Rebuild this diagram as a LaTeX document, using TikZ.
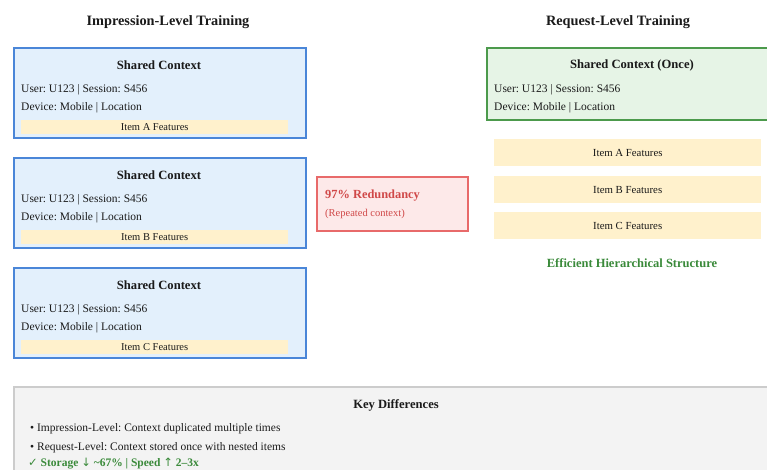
\documentclass[tikz,border=0pt]{standalone}
\usepackage{fontspec}
\setmainfont{Liberation Serif}
\newfontfamily\symfont{DejaVu Sans}
\frenchspacing
\definecolor{ctxblue}{HTML}{4A86D8}
\definecolor{ctxbluefill}{HTML}{E3F0FC}
\definecolor{ctxgreen}{HTML}{4C9A4C}
\definecolor{ctxgreenfill}{HTML}{E6F4E6}
\definecolor{itemfill}{HTML}{FFF1CC}
\definecolor{redline}{HTML}{E86A6A}
\definecolor{redfill}{HTML}{FDE9E9}
\definecolor{redtext}{HTML}{D04848}
\definecolor{goodgreen}{HTML}{3A8A3A}
\definecolor{panelfill}{HTML}{F3F3F3}
\definecolor{panelline}{HTML}{CCCCCC}
\definecolor{ink}{HTML}{1A1A1A}
\tikzset{
  fs/.style={font=\fontsize{#1}{#1}\selectfont},
  fsb/.style={font=\fontsize{#1}{#1}\selectfont\bfseries},
  heading/.style={fsb=14.3, text=ink, inner sep=0},
  boxtitle/.style={fsb=12.6, text=ink, inner sep=0},
  body/.style={fs=11.5, text=ink, inner sep=0, anchor=base west},
  ctxbox/.style={draw=ctxblue, fill=ctxbluefill, line width=2pt, anchor=north west, inner sep=0,
    minimum width=292pt, minimum height=90pt},
  oncebox/.style={draw=ctxgreen, fill=ctxgreenfill, line width=2pt, anchor=north west, inner sep=0,
    minimum width=290pt, minimum height=72pt},
  smallitem/.style={fill=itemfill, anchor=north west, inner sep=0, minimum width=267pt, minimum height=14pt,
    fs=10.5, text=ink},
  bigitem/.style={fill=itemfill, anchor=north west, inner sep=0, minimum width=267pt, minimum height=27pt,
    fs=10.8, text=ink},
  redbox/.style={draw=redline, fill=redfill, line width=1.6pt, anchor=north west, inner sep=0,
    minimum width=151pt, minimum height=54pt},
  panel/.style={draw=panelline, fill=panelfill, line width=1.6pt, anchor=north west, inner sep=0,
    minimum width=780pt, minimum height=110pt},
}
\begin{document}
\begin{tikzpicture}[x=1pt,y=-1pt]
\clip (0,0) rectangle (767,469);
\fill[white] (0,0) rectangle (767,469);

% column headings
\node[heading] (hleft) at (168,22) {Impression-Level Training};
\node[heading] (hright) at (618,22) {Request-Level Training};

% impression-level: one full context copy per item
\foreach \id/\y/\item in {a/0/A, b/110/B, c/220/C}{
  \node[ctxbox] (ctx\id) at (13,47+\y) {};
  \node[boxtitle] (ctx\id title) at (159,65+\y) {Shared Context};
  \node[body] (ctx\id user) at (21,92+\y) {User: U123 | Session: S456};
  \node[body] (ctx\id dev) at (21,110+\y) {Device: Mobile | Location};
  \node[smallitem] (ctx\id item) at (21,120+\y) {Item \item{} Features};
}

% redundancy callout
\node[redbox] (red) at (316,176) {};
\node[fsb=12.4, text=redtext, inner sep=0, anchor=base west] (redhead) at (325,198) {97\% Redundancy};
\node[fs=10.5, text=redtext, inner sep=0, anchor=base west] (rednote) at (325,216) {(Repeated context)};

% request-level: context once, items nested below
\node[oncebox] (once) at (486,47) {};
\node[boxtitle] (oncetitle) at (632,65) {Shared Context (Once)};
\node[body] (onceuser) at (494,92) {User: U123 | Session: S456};
\node[body] (oncedev) at (494,110) {Device: Mobile | Location};
\node[bigitem] (itema) at (494,139) {Item A Features};
\node[bigitem] (itemb) at (494,176) {Item B Features};
\node[bigitem] (itemc) at (494,212) {Item C Features};
\node[fsb=12.5, text=goodgreen, inner sep=0] (efficient) at (632,263) {Efficient Hierarchical Structure};

% summary panel
\node[panel] (keys) at (13,386) {};
\node[boxtitle] (keystitle) at (396,405) {Key Differences};
\node[fs=11.5, text=ink, inner sep=0, anchor=base west] (k1) at (30,431) {• Impression-Level: Context duplicated multiple times};
\node[fs=11.5, text=ink, inner sep=0, anchor=base west] (k2) at (30,450) {• Request-Level: Context stored once with nested items};
\node[fsb=11.5, text=goodgreen, inner sep=0, anchor=base west] (k3) at (28,466)
  {{\symfont\mdseries ✓} Storage {\symfont\mdseries ↓} \textasciitilde67\% | Speed {\symfont\mdseries ↑} 2–3x};
\end{tikzpicture}
\end{document}
